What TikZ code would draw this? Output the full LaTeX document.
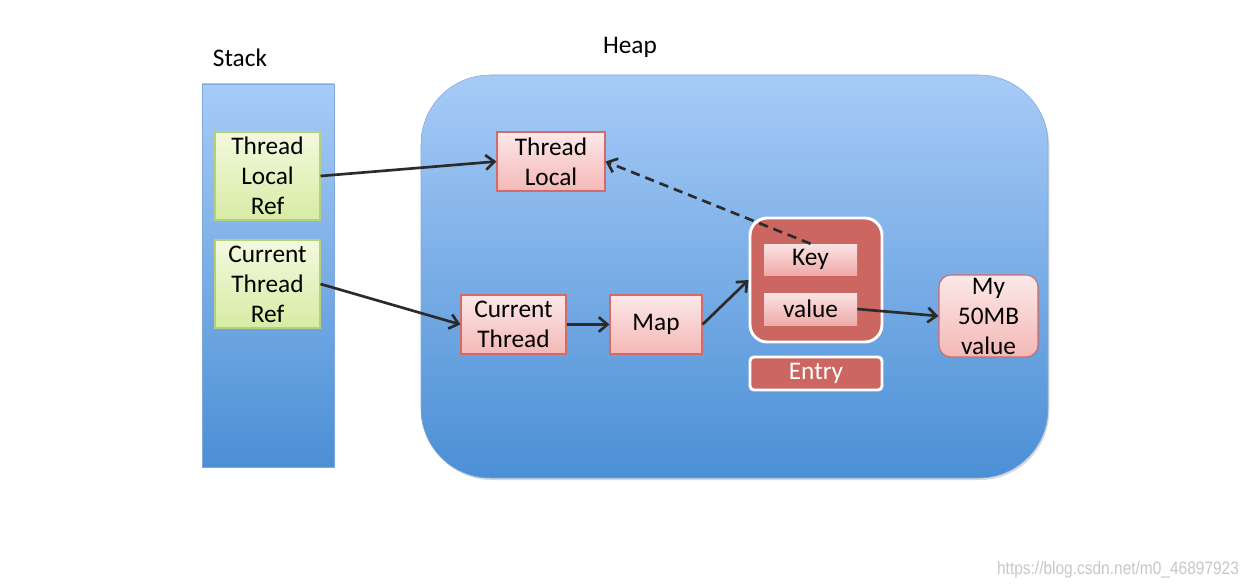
\documentclass[tikz,border=0pt]{standalone}
\usepackage{fontspec}
\setmainfont{Carlito}
\newfontfamily\urlfont{Liberation Sans}
\usetikzlibrary{arrows.meta,shadows}
\definecolor{arrowgray}{HTML}{2B2B2B}
\definecolor{entryred}{HTML}{CC6660}
\definecolor{pinkline}{HTML}{D46B6B}
\definecolor{greenline}{HTML}{B5D17C}
\definecolor{areatop}{HTML}{A7CBF7}
\definecolor{areabottom}{HTML}{4B8FD5}
\definecolor{arealine}{HTML}{7FA9DC}

\tikzset{
	area/.style={draw=arealine,top color=areatop,bottom color=areabottom,inner sep=0},
	stackref/.style={draw=greenline,line width=0.8pt,top color={rgb,255:red,243;green,249;blue,222},bottom color={rgb,255:red,214;green,236;blue,164},minimum width=78.75pt,minimum height=66pt,inner sep=0,align=center,font=\fontsize{19}{22.5}\selectfont,drop shadow={opacity=0.25,shadow xshift=1pt,shadow yshift=-1pt}},
	heapobj/.style={draw=pinkline,line width=0.8pt,top color={rgb,255:red,252;green,232;blue,232},bottom color={rgb,255:red,243;green,184;blue,182},inner sep=0,align=center,font=\fontsize{19}{22.5}\selectfont,drop shadow={opacity=0.25,shadow xshift=1pt,shadow yshift=-1pt}},
	field/.style={top color={rgb,255:red,251;green,228;blue,228},bottom color={rgb,255:red,238;green,170;blue,168},minimum width=69.75pt,minimum height=23.25pt,inner sep=0,font=\fontsize{19}{22.5}\selectfont,drop shadow={opacity=0.35,shadow xshift=1pt,shadow yshift=-1pt}},
	entrybox/.style={draw=white,line width=2.2pt,fill=entryred,rounded corners=13pt,inner sep=0,drop shadow={opacity=0.3,shadow xshift=1pt,shadow yshift=-1pt}},
	ref/.style={draw=arrowgray,line width=2pt,-{Straight Barb[length=6.5pt,width=11pt]}},
	title/.style={font=\fontsize{19}{22.5}\selectfont}
}

\begin{document}
\begin{tikzpicture}[x=0.75pt,y=-0.75pt]
	\useasboundingbox (0,0) rectangle (1253,588);
	
	\node[title] at (240,58) (stacklbl) {Stack};
	\node[title] at (630,47) (heaplbl) {Heap};
	
	\node[area,minimum width=99pt,minimum height=287.25pt,drop shadow={opacity=0.2,shadow xshift=1pt,shadow yshift=-1pt}] at (268,275.5) (stack) {};
	\node[area,rounded corners=52pt,minimum width=470.25pt,minimum height=302.25pt,drop shadow={opacity=0.3,shadow xshift=1pt,shadow yshift=-1.5pt}] at (734.5,276.5) (heap) {};
	
	\node[stackref] at (267.5,176) (tlref) {Thread\\Local\\Ref};
	\node[stackref] at (267.5,284) (ctref) {Current\\Thread\\Ref};
	
	\node[heapobj,minimum width=81pt,minimum height=44.25pt] at (551,161.5) (tl) {Thread\\Local};
	\node[heapobj,minimum width=78.75pt,minimum height=44.25pt] at (513.5,324.5) (ct) {Current\\Thread};
	\node[heapobj,minimum width=69pt,minimum height=44.25pt] at (656,324.5) (map) {Map};
	
	\node[entrybox,minimum width=99pt,minimum height=93pt] at (816,280) (entry) {};
	\node[field] at (810.5,259.5) (key) {Key};
	\node[field,minimum height=24pt] at (810.5,309) (val) {value};
	\node[entrybox,rounded corners=3pt,minimum width=99pt,minimum height=24.75pt,text=white,font=\fontsize{19}{22.5}\selectfont] at (816,373.5) (entrylbl) {Entry};
	
	\node[heapobj,rounded corners=9pt,minimum width=74.25pt,minimum height=61.5pt] at (988.5,316) (big) {My\\50MB\\value};
	
	\draw[ref] (tlref.east) -- (tl.west);
	\draw[ref] (ctref.east) -- (ct.west);
	\draw[ref] (ct.east) -- (map.west);
	\draw[ref] (map.east) -- (entry.west);
	\draw[ref] (val.east) -- (big.west);
	\draw[ref,dash pattern=on 7pt off 4.5pt] (key.north) -- (tl.east);
	
	\node[text=black!22,font=\urlfont\fontsize{13.5}{16}\selectfont,anchor=east,xscale=0.86,transform shape] at (1243,570) (mark) {https://blog.csdn.net/m0\_46897923};
\end{tikzpicture}
\end{document}
